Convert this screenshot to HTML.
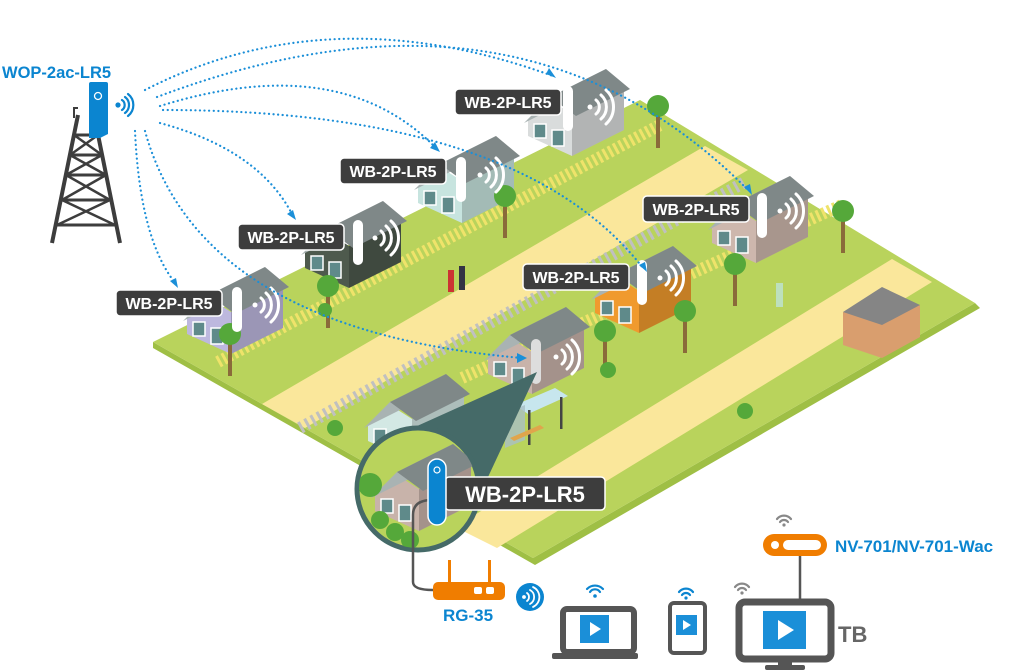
<!DOCTYPE html>
<html><head><meta charset="utf-8"><style>
html,body{margin:0;padding:0;background:#fff;}
svg{display:block;font-family:"Liberation Sans",sans-serif;}
</style></head><body>
<svg width="1024" height="672" viewBox="0 0 1024 672" xmlns="http://www.w3.org/2000/svg">
<defs>
<symbol id="house" overflow="visible">
 <polygon points="0,40 22,20 44,34 44,76 0,56" fill="currentColor"/>
 <polygon points="44,34 96,8 96,50 44,76" fill="currentColor"/>
 <polygon points="44,34 96,8 96,50 44,76" fill="#000" opacity="0.18"/>
 <polygon points="-4,43 22,17 78,-11 52,15" fill="#a9b3b3"/>
 <polygon points="22,17 48,36 102,9 78,-11" fill="#7f8888"/>
 <rect x="6" y="44" width="12" height="14" fill="#5f8a8a" stroke="#fff" stroke-width="1.5"/>
 <rect x="24" y="50" width="12" height="16" fill="#5f8a8a" stroke="#fff" stroke-width="1.5"/>
</symbol>
<symbol id="wifi" overflow="visible">
 <circle cx="0" cy="0" r="2.5" fill="#fff"/>
 <path d="M6,-7 A9,9 0 0 1 6,7" fill="none" stroke="#fff" stroke-width="3" stroke-linecap="round"/>
 <path d="M11,-12 A16,16 0 0 1 11,12" fill="none" stroke="#fff" stroke-width="3" stroke-linecap="round"/>
 <path d="M16,-17 A23,23 0 0 1 16,17" fill="none" stroke="#fff" stroke-width="3" stroke-linecap="round"/>
</symbol>
<symbol id="tree" overflow="visible">
 <rect x="-2" y="0" width="4" height="38" fill="#8a6a3a"/>
 <circle cx="0" cy="-4" r="11" fill="#55a83a"/>
</symbol>
</defs>

<polygon points="153,342 533,558 975,303 980,308 535,565 153,348" fill="#9fbf45"/>
<polygon points="153,342 640,100 975,303 533,558" fill="#b9d35c"/>
<polygon points="262,404 305,428 748,170 705,146" fill="#fae79b"/>
<polygon points="455,527 497,548 932,282 892,259" fill="#fae79b"/>
<g stroke="#efe36a" stroke-width="3">
 <path d="M218,362 L660,125" stroke-width="12" stroke-dasharray="3 3"/>
 <path d="M462,378 L842,205" stroke-width="12" stroke-dasharray="3 3"/>
</g>
<path d="M300,428 L745,182" stroke="#c0c0c0" stroke-width="12" stroke-dasharray="3 4"/>

<use href="#house" x="528" y="80" color="#d9dcdc"/>
<use href="#house" x="418" y="147" color="#c7e4df"/>
<use href="#house" x="305" y="212" color="#4e5a4d"/>
<use href="#house" x="187" y="278" color="#bdb8de"/>
<use href="#house" x="712" y="187" color="#cdb7ad"/>
<use href="#house" x="595" y="257" color="#f09a2e"/>
<use href="#house" x="488" y="318" color="#c8b3aa"/>
<use href="#house" x="368" y="385" color="#d3e8e4"/>
<polygon points="843,312 843,345 882,358 920,337 920,305 882,320" fill="#d99e6e"/>
<polygon points="843,312 882,287 920,305 882,325" fill="#858585"/>
<polygon points="515,405 555,388 568,396 528,414" fill="#c7e6ee"/>
<polygon points="505,413 525,405 525,440 505,448" fill="#a9bfc5" opacity="0.8"/>
<rect x="528" y="410" width="2.5" height="35" fill="#444"/><rect x="560" y="397" width="2.5" height="32" fill="#444"/>
<polygon points="510,438 540,425 544,428 514,441" fill="#e0a54c"/>
<use href="#tree" x="328" y="290"/><use href="#tree" x="230" y="338"/>
<use href="#tree" x="505" y="200"/><use href="#tree" x="658" y="110"/>
<use href="#tree" x="685" y="315"/><use href="#tree" x="735" y="268"/>
<use href="#tree" x="843" y="215"/><use href="#tree" x="605" y="335"/>
<circle cx="745" cy="411" r="8" fill="#55a83a"/><circle cx="335" cy="428" r="8" fill="#55a83a"/>
<circle cx="608" cy="370" r="8" fill="#55a83a"/><circle cx="325" cy="310" r="7" fill="#55a83a"/>
<rect x="448" y="270" width="6" height="22" fill="#c33" /><rect x="459" y="266" width="6" height="24" fill="#334"/>
<rect x="776" y="283" width="7" height="24" fill="#bde0bd"/>

<g>
 <rect x="563" y="86" width="10" height="45" rx="5" fill="#fff"/><use href="#wifi" x="590" y="107"/>
 <rect x="455" y="89" width="106" height="26" rx="4" fill="#3d3d3d" stroke="#fff" stroke-width="1.5"/>
 <text x="508" y="108" fill="#fff" font-size="16" font-weight="bold" text-anchor="middle">WB-2P-LR5</text>
 <rect x="456" y="157" width="10" height="45" rx="5" fill="#fff"/><use href="#wifi" x="480" y="175"/>
 <rect x="340" y="158" width="106" height="26" rx="4" fill="#3d3d3d" stroke="#fff" stroke-width="1.5"/>
 <text x="393" y="177" fill="#fff" font-size="16" font-weight="bold" text-anchor="middle">WB-2P-LR5</text>
 <rect x="353" y="220" width="10" height="45" rx="5" fill="#fff"/><use href="#wifi" x="375" y="238"/>
 <rect x="238" y="224" width="106" height="26" rx="4" fill="#3d3d3d" stroke="#fff" stroke-width="1.5"/>
 <text x="291" y="243" fill="#fff" font-size="16" font-weight="bold" text-anchor="middle">WB-2P-LR5</text>
 <rect x="232" y="287" width="10" height="45" rx="5" fill="#fff"/><use href="#wifi" x="255" y="305"/>
 <rect x="116" y="290" width="106" height="26" rx="4" fill="#3d3d3d" stroke="#fff" stroke-width="1.5"/>
 <text x="169" y="309" fill="#fff" font-size="16" font-weight="bold" text-anchor="middle">WB-2P-LR5</text>
 <rect x="757" y="193" width="10" height="45" rx="5" fill="#fff"/><use href="#wifi" x="780" y="211"/>
 <rect x="643" y="196" width="106" height="26" rx="4" fill="#3d3d3d" stroke="#fff" stroke-width="1.5"/>
 <text x="696" y="215" fill="#fff" font-size="16" font-weight="bold" text-anchor="middle">WB-2P-LR5</text>
 <rect x="637" y="260" width="10" height="45" rx="5" fill="#fff"/><use href="#wifi" x="660" y="278"/>
 <rect x="523" y="264" width="106" height="26" rx="4" fill="#3d3d3d" stroke="#fff" stroke-width="1.5"/>
 <text x="576" y="283" fill="#fff" font-size="16" font-weight="bold" text-anchor="middle">WB-2P-LR5</text>
 <rect x="531" y="339" width="10" height="45" rx="5" fill="#ddd"/><use href="#wifi" x="556" y="357"/>
</g>

<polygon points="375,445 537,372 468,520" fill="#456a68"/>
<circle cx="418" cy="489" r="61" fill="#b9d35c" stroke="#456a68" stroke-width="5"/>
<clipPath id="cc"><circle cx="418" cy="489" r="59"/></clipPath>
<g clip-path="url(#cc)">
 <polygon points="440,545 520,500 520,560 440,600" fill="#fae79b"/>
 <use href="#house" x="375" y="455" color="#c8b3aa"/>
 <circle cx="370" cy="485" r="12" fill="#55a83a"/>
 <circle cx="380" cy="520" r="9" fill="#55a83a"/><circle cx="395" cy="532" r="9" fill="#55a83a"/><circle cx="410" cy="540" r="9" fill="#55a83a"/>
</g>
<path d="M432,500 Q413,500 413,515 L413,582 Q413,590 433,590" fill="none" stroke="#555" stroke-width="2.5"/>
<rect x="445" y="477" width="160" height="33" rx="4" fill="#3d3d3d" stroke="#fff" stroke-width="1.5"/>
<text x="525" y="502" fill="#fff" font-size="22" font-weight="bold" text-anchor="middle">WB-2P-LR5</text>
<rect x="428" y="459" width="18" height="66" rx="9" fill="#0b85d0" stroke="#fff" stroke-width="1.5"/>
<circle cx="437" cy="470" r="3" fill="none" stroke="#fff" stroke-width="1.2"/>

<g stroke="#3d3d3d" stroke-width="4" fill="none">
 <path d="M78,115 L52,243 M94,115 L120,243"/>
 <path d="M74,135 H98 M70,155 H102 M66,175 H106 M62,200 H110 M57,225 H115" stroke-width="3"/>
 <path d="M74,135 L102,155 M98,135 L70,155 M70,155 L106,175 M102,155 L66,175 M66,175 L110,200 M106,175 L62,200 M62,200 L115,225 M110,200 L57,225" stroke-width="2.5"/>
 <path d="M74,118 V108 H78" stroke-width="2"/>
</g>
<path d="M89,86 H108 V134 L100,138 H89 Z" fill="#0b85d0"/>
<rect x="89" y="82" width="19" height="6" rx="2" fill="#0b85d0"/>
<circle cx="98" cy="96" r="3.5" fill="none" stroke="#fff" stroke-width="1.3"/>
<g fill="none" stroke="#0b85d0" stroke-width="2.2" stroke-linecap="round">
 <circle cx="118" cy="105" r="1.5" fill="#0b85d0"/>
 <path d="M122,100 A6,6 0 0 1 122,110 M125,97 A10,10 0 0 1 125,113 M128,94 A14,14 0 0 1 128,116"/>
</g>
<text x="2" y="78" fill="#0b85d0" font-size="16.5" font-weight="bold">WOP-2ac-LR5</text>

<g fill="none" stroke="#1b8fd8" stroke-width="2.2" stroke-dasharray="0.1 4.5" stroke-linecap="round">
 <path d="M145,90 Q330,-5 553,76"/>
 <path d="M157,97 Q520,-40 748,190"/>
 <path d="M160,106 Q340,50 436,148"/>
 <path d="M163,110 Q520,110 643,268"/>
 <path d="M160,123 Q260,150 293,216"/>
 <path d="M135,131 Q140,240 176,284"/>
 <path d="M145,131 Q200,330 522,358"/>
</g>
<g fill="#1b8fd8">
 <polygon points="556,78 546,74 549,68"/>
 <polygon points="440,152 430,148 435,142"/>
 <polygon points="752,195 744,187 750,184"/>
 <polygon points="647,272 639,265 645,262"/>
 <polygon points="296,220 287,214 293,210"/>
 <polygon points="178,288 170,281 176,278"/>
 <polygon points="527,358 517,353 517,363"/>
</g>

<rect x="448" y="560" width="3" height="22" fill="#f07d00"/><rect x="488" y="560" width="3" height="22" fill="#f07d00"/>
<rect x="433" y="582" width="72" height="18" rx="5" fill="#f07d00"/>
<rect x="474" y="587" width="8" height="7" rx="2" fill="#fff"/><rect x="486" y="587" width="8" height="7" rx="2" fill="#fff"/>
<text x="443" y="621" fill="#0b85d0" font-size="17" font-weight="bold">RG-35</text>
<circle cx="530" cy="597" r="14" fill="#0b85d0"/>
<g fill="none" stroke="#fff" stroke-width="1.8" stroke-linecap="round">
 <circle cx="524" cy="597" r="1" fill="#fff"/>
 <path d="M527,593 A5,5 0 0 1 527,601 M530,590 A8,8 0 0 1 530,604 M533,587 A11,11 0 0 1 533,607"/>
</g>

<g fill="none" stroke-width="2.2" stroke-linecap="round">
 <g stroke="#0b85d0"><path d="M587,589 A11,11 0 0 1 603,589 M590,592 A6,6 0 0 1 600,592"/></g>
 <circle cx="595" cy="596" r="1.8" fill="#0b85d0"/>
 <g stroke="#0b85d0"><path d="M679,592 A9,9 0 0 1 693,592 M682,595 A5,5 0 0 1 690,595"/></g>
 <circle cx="686" cy="598" r="1.6" fill="#0b85d0"/>
 <g stroke="#888"><path d="M735,587 A9,9 0 0 1 749,587 M738,590 A5,5 0 0 1 746,590"/></g>
 <circle cx="742" cy="593" r="1.6" fill="#888"/>
 <g stroke="#888"><path d="M777,519 A9,9 0 0 1 791,519 M780,522 A5,5 0 0 1 788,522"/></g>
 <circle cx="784" cy="525" r="1.6" fill="#888"/>
</g>

<rect x="563" y="609" width="71" height="43" rx="4" fill="none" stroke="#555" stroke-width="6"/>
<rect x="552" y="653" width="86" height="6" rx="2" fill="#555"/>
<rect x="670" y="603" width="35" height="50" rx="4" fill="none" stroke="#555" stroke-width="4"/>
<rect x="739" y="602" width="92" height="57" rx="6" fill="none" stroke="#555" stroke-width="7"/>
<rect x="778" y="659" width="14" height="6" fill="#555"/><rect x="765" y="665" width="40" height="5" rx="2" fill="#555"/>
<text x="838" y="642" fill="#666" font-size="22" font-weight="bold">TB</text>
<g>
 <rect x="580" y="615" width="29" height="28" fill="#1b8fd8"/>
 <polygon points="590,622 590,636 601,629" fill="#fff"/>
 <rect x="676" y="615" width="21" height="20" fill="#1b8fd8"/>
 <polygon points="683,620 683,630 691,625" fill="#fff"/>
 <rect x="763" y="611" width="43" height="38" fill="#1b8fd8"/>
 <polygon points="778,620 778,640 794,630" fill="#fff"/>
</g>
<line x1="800" y1="555" x2="800" y2="600" stroke="#555" stroke-width="2.5"/>
<rect x="763" y="534" width="64" height="22" rx="11" fill="#f07d00"/>
<circle cx="775" cy="545" r="4" fill="#fff"/><rect x="783" y="540" width="38" height="10" rx="5" fill="#fff"/>
<text x="835" y="552" fill="#0b85d0" font-size="17" font-weight="bold">NV-701/NV-701-Wac</text>
</svg>
</body></html>
